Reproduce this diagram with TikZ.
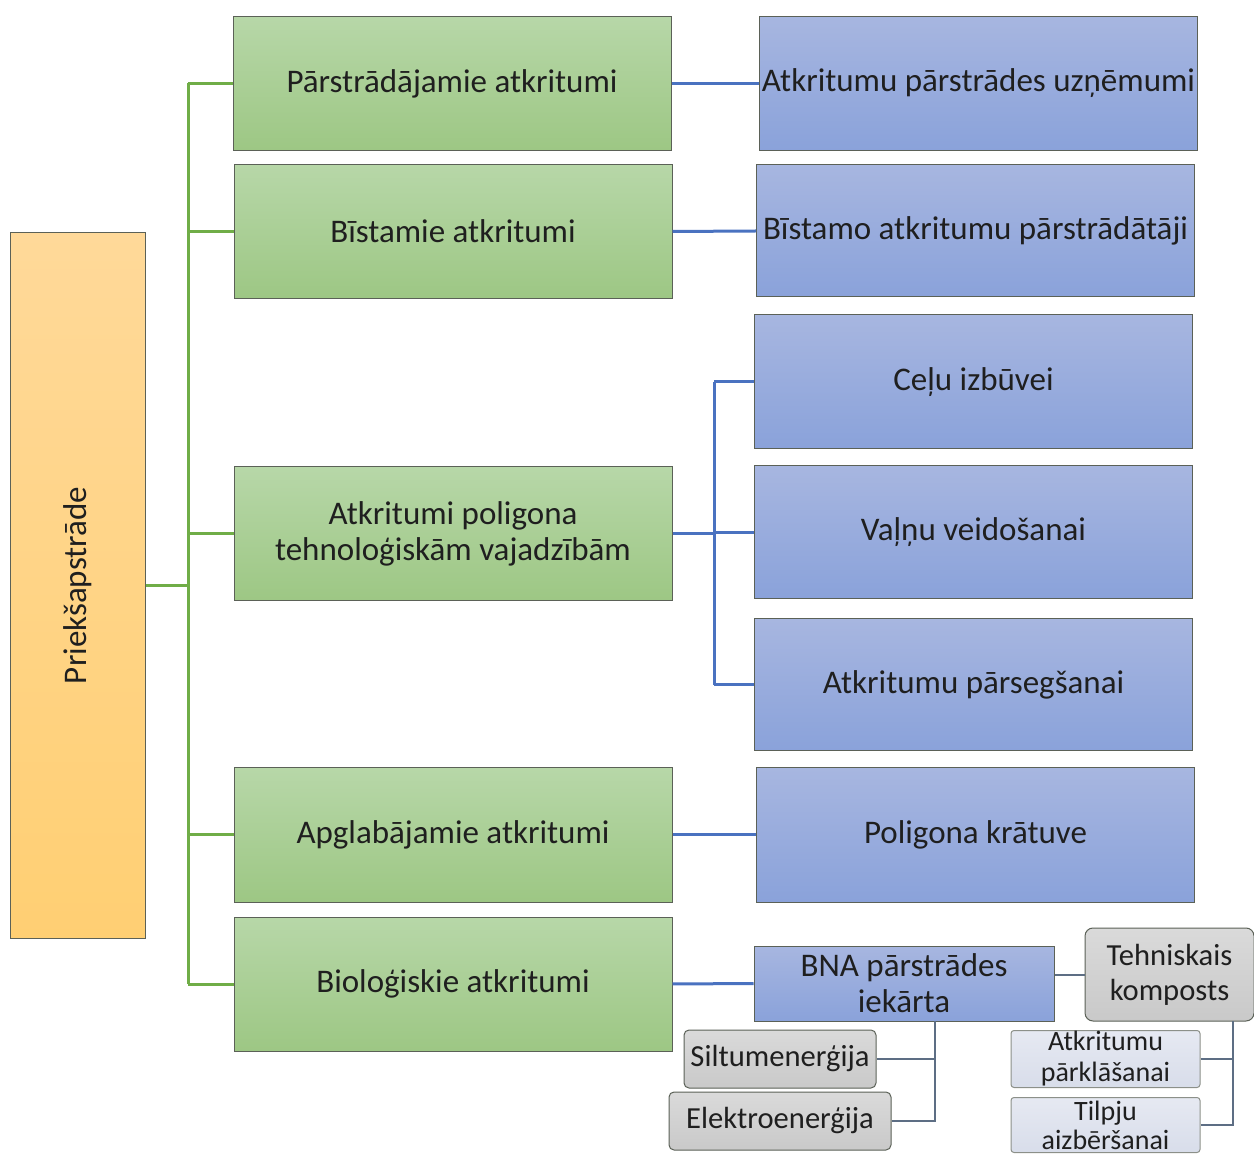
\documentclass[tikz,border=0pt]{standalone}
\usepackage{fontspec}
\setmainfont{Carlito}
\usepackage{tikz}
\definecolor{greentop}{HTML}{B7D7A8}
\definecolor{greenbot}{HTML}{9DC784}
\definecolor{bluetop}{HTML}{A7B6E0}
\definecolor{bluebot}{HTML}{8AA2DA}
\definecolor{orangetop}{HTML}{FFD999}
\definecolor{orangebot}{HTML}{FFCF73}
\definecolor{greytop}{HTML}{DADADA}
\definecolor{greybot}{HTML}{C9C9C9}
\definecolor{paletop}{HTML}{E6E9F2}
\definecolor{palebot}{HTML}{D8DDEA}
\definecolor{greenline}{HTML}{70AD47}
\definecolor{blueline}{HTML}{4A72C0}
\definecolor{greyline}{HTML}{5D6E84}
\definecolor{edge}{HTML}{5B6157}

\begin{document}
\begin{tikzpicture}[x=0.5pt,y=-0.5pt,
 every node/.style={font=\fontsize{16.5}{18}\selectfont,text=black!88,align=center,inner sep=0pt},
 box/.style={draw=edge,line width=0.5pt,minimum width=219pt,minimum height=67pt},
 gbox/.style={box,top color=greentop,bottom color=greenbot},
 bbox/.style={box,top color=bluetop,bottom color=bluebot},
 sbox/.style={draw=edge,line width=0.5pt,rounded corners=2.5pt,top color=greytop,bottom color=greybot,
  minimum height=29pt,font=\fontsize{15.3}{17.5}\selectfont},
 pbox/.style={draw=edge!70,line width=0.5pt,rounded corners=1.5pt,top color=paletop,bottom color=palebot,
  minimum width=94.5pt,minimum height=28.5pt,font=\fontsize{14}{15.5}\selectfont},
 gline/.style={greenline,line width=1.5pt},
 bline/.style={blueline,line width=1.5pt},
 tline/.style={greyline,line width=1pt}]
 \useasboundingbox (0,0) rectangle (1254,1154);
 % source
 \node[draw=edge,line width=0.5pt,top color=orangetop,bottom color=orangebot,
  minimum width=67.5pt,minimum height=352.5pt] (pre) at (77.5,585.5) {};
 \node[rotate=90] (preText) at (pre.center) {Priekšapstrāde};
 % waste groups
 \node[gbox,minimum width=219pt] (gPar) at (452,83.5) {Pārstrādājamie atkritumi};
 \node[gbox] (gBist) at (453,231.5) {Bīstamie atkritumi};
 \node[gbox] (gPol) at (453,534) {Atkritumi poligona\\tehnoloģiskām vajadzībām};
 \node[gbox] (gApg) at (453,835) {Apglabājamie atkritumi};
 \node[gbox] (gBio) at (453,984) {Bioloģiskie atkritumi};
 % destinations
 \node[bbox] (bPar) at (978.5,83.5) {Atkritumu pārstrādes uzņēmumi};
 \node[bbox,minimum height=66pt] (bBist) at (975.5,231) {Bīstamo atkritumu pārstrādātāji};
 \node[bbox] (bCelu) at (973.5,382) {Ceļu izbūvei};
 \node[bbox,minimum height=66.5pt] (bValnu) at (973.5,532.5) {Vaļņu veidošanai};
 \node[bbox,minimum height=66pt] (bPars) at (973.5,685) {Atkritumu pārsegšanai};
 \node[bbox] (bKrat) at (975.5,835) {Poligona krātuve};
 \node[bbox,minimum width=150pt,minimum height=37.5pt] (bBna) at (904,983.5) {BNA pārstrādes\\iekārta};
 % products
 \node[sbox,rounded corners=4pt,minimum width=84.5pt,minimum height=46.5pt] (tKomp) at (1169.5,974.5) {Tehniskais\\komposts};
 \node[sbox,minimum width=96pt] (tSilt) at (780,1059) {Siltumenerģija};
 \node[sbox,minimum width=111pt] (tElek) at (780,1121) {Elektroenerģija};
 \node[pbox] (tPark) at (1105.5,1059) {Atkritumu\\pārklāšanai};
 \node[pbox,minimum height=27.5pt,font=\fontsize{14}{14.5}\selectfont] (tTilp) at (1105.5,1125) {Tilpju\\aizbēršanai};
 % green tree
 \coordinate (gTrunk) at (188,585.5);
 \draw[gline] (pre.east) -- (gTrunk);
 \draw[gline] (gTrunk |- gPar.west) -- (gTrunk |- gBio.west);
 \foreach \g in {gPar,gBist,gPol,gApg,gBio}
  \draw[gline] (gTrunk |- \g.west) -- (\g.west);
 % blue links
 \draw[bline] (gPar.east) -- (bPar.west);
 \draw[bline] (gBist.east) -- (bBist.west);
 \draw[bline] (gApg.east) -- (bKrat.west);
 \draw[bline] (gBio.east) -- (bBna.west);
 \coordinate (bTrunk) at (714,534);
 \draw[bline] (gPol.east) -- (bTrunk);
 \draw[bline] (bTrunk |- bCelu.west) -- (bTrunk |- bPars.west);
 \foreach \b in {bCelu,bValnu,bPars}
  \draw[bline] (bTrunk |- \b.west) -- (\b.west);
 % products links
 \draw[tline] (bBna.east |- tKomp.west) -- (tKomp.west);
 \coordinate (eTrunk) at (935,1021);
 \draw[tline] (eTrunk) -- (eTrunk |- tElek.east) -- (tElek.east);
 \draw[tline] (tSilt.east) -- (eTrunk |- tSilt.east);
 \coordinate (kTrunk) at (1233,1021);
 \draw[tline] (kTrunk) -- (kTrunk |- tTilp.east) -- (tTilp.east);
 \draw[tline] (tPark.east) -- (kTrunk |- tPark.east);
\end{tikzpicture}
\end{document}
